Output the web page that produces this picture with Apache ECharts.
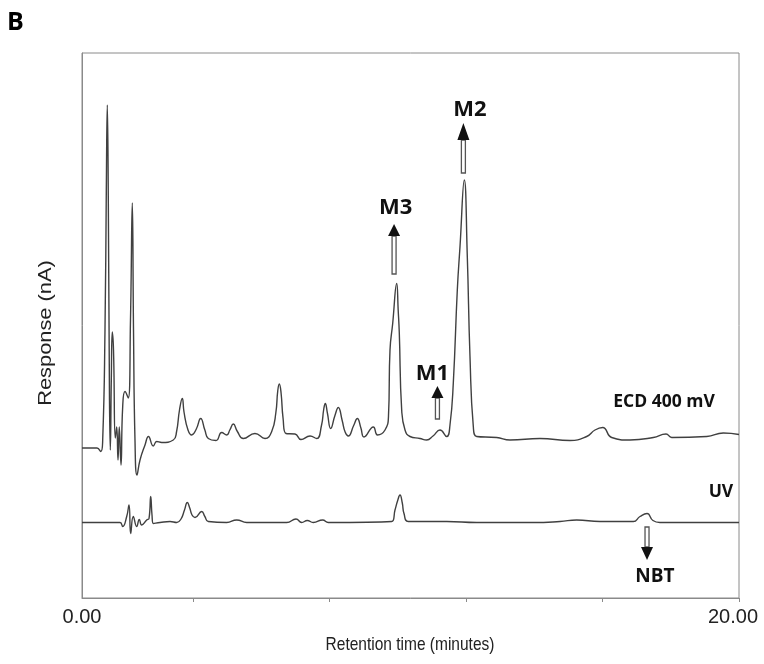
<!DOCTYPE html>
<html>
<head>
<meta charset="utf-8">
<script src="https://cdn.jsdelivr.net/npm/echarts@6/dist/echarts.min.js"></script>
<style>html,body{margin:0;padding:0;background:#fff;}#c{width:764px;height:664px;}</style>
</head>
<body>
<div id="c"></div>
<script>
// Retention time (minutes) and response (arbitrary units)
const ecdTime = [0.00,0.457,0.569,0.630,0.700,0.740,0.770,0.801,0.837,0.861,0.892,0.922,0.959,1.014,1.056,1.096,1.135,1.187,1.239,1.309,1.409,1.476,1.531,1.568,1.613,1.674,1.766,1.918,2.024,2.170,2.274,2.426,2.779,2.877,2.968,3.053,3.105,3.227,3.339,3.48,3.613,3.74,3.845,4.079,4.253,4.405,4.50,4.606,4.73,4.910,5.266,5.571,5.775,5.90,5.96,6.006,6.06,6.12,6.210,6.484,6.667,6.941,7.145,7.29,7.36,7.406,7.47,7.571,7.70,7.802,7.92,8.01,8.107,8.27,8.381,8.49,8.584,8.868,8.995,9.224,9.330,9.376,9.458,9.580,9.625,9.659,9.732,9.833,9.985,10.289,10.493,10.685,10.898,11.102,11.202,11.303,11.425,11.507,11.638,11.729,11.811,11.912,12.015,12.624,13.029,13.942,14.855,15.364,15.616,15.851,16.125,16.682,17.391,17.778,17.951,19.017,19.522,20.00];
const ecdResp = [30.0,30.0,29.3,31.6,53.6,81.6,98.6,79.6,39.6,29.6,43.6,53.2,49.6,32.0,34.2,27.6,34.2,26.6,38.3,41.3,40.0,55.6,79.0,53.6,31.6,24.6,27.6,30.6,32.3,30.4,31.3,31.1,31.6,33.2,37.6,39.9,37.2,33.6,32.6,33.8,35.9,33.6,31.9,31.5,33.1,32.6,33.6,34.8,33.3,31.9,32.9,31.9,33.3,37.0,41.5,42.8,41.0,36.0,32.9,32.8,31.7,32.4,31.9,34.5,37.8,38.9,37.0,33.9,36.5,38.1,35.5,33.2,32.4,34.5,35.9,34.0,32.2,34.2,32.6,33.6,36.4,49.6,54.9,62.9,57.6,53.0,37.6,33.6,32.3,31.9,31.6,32.4,33.6,32.3,34.6,43.0,61.6,70.3,83.6,68.3,48.3,34.3,32.3,32.1,31.6,31.9,31.5,32.3,33.6,34.1,32.1,31.6,32.1,32.8,32.1,32.3,33.0,32.7];
const uvTime = [0.00,1.157,1.239,1.361,1.431,1.482,1.562,1.665,1.744,1.817,1.970,2.040,2.091,2.131,2.170,2.374,2.679,2.883,3.014,3.12,3.205,3.28,3.349,3.440,3.644,3.74,3.845,4.405,4.709,5.014,6.231,6.514,6.688,6.858,7.041,7.327,7.498,9.428,9.528,9.61,9.680,9.75,9.802,9.933,11.102,12.015,13.739,14.551,15.059,15.769,16.783,16.986,17.200,17.380,17.595,20.00];
const uvResp = [15.1,15.1,14.3,16.3,18.6,12.9,16.3,14.3,15.7,14.6,15.6,15.9,20.3,16.6,14.9,15.1,15.3,15.1,15.8,17.6,19.1,18.0,16.6,16.1,17.3,16.3,15.3,15.1,15.6,15.1,15.1,15.8,15.1,15.5,15.1,15.6,15.1,15.3,17.6,19.5,20.6,19.0,16.9,15.3,15.3,15.1,15.1,15.3,15.6,15.3,15.3,16.3,16.9,15.5,15.1,15.1];
const xTicks = [3.39, 7.54, 11.69, 15.85, 20];
const xLabelValues = [0, 20];

// Annotations: [label, time, shaftBottom, shaftTop, tip, textTime, textResp]
const arrowsUp = [
  ['M3', 9.50, 64.8, 72.4, 74.8, 9.55, 78.0],
  ['M1', 10.82, 35.8, 40.0, 42.4, 10.67, 44.8],
  ['M2', 11.61, 85.0, 91.6, 95.0, 11.81, 97.6]
];
const arrowsDown = [
  ['NBT', 17.20, 14.2, 10.2, 7.6, 17.44, 4.2]
];
const traceLabels = [['ECD 400 mV', 17.72, 39.2], ['UV', 19.45, 21.2]];

const zip = (a, b) => a.map((v, i) => [v, b[i]]);
const chart = echarts.init(document.getElementById('c'));
const lineColor = '#404040';
const axisColor = '#8a8a8a';
const labelFontFamily = 'Liberation Sans';
chart.setOption({
  animation: false,
  backgroundColor: '#fff',
  grid: {left: 82, right: 25, top: 53, bottom: 66, show: true, borderColor: axisColor, borderWidth: 1, backgroundColor: 'transparent'},
  xAxis: {
    type: 'value', min: 0, max: 20,
    axisLine: {lineStyle: {color: axisColor, width: 1}},
    axisTick: {show: true, customValues: xTicks, length: 4, lineStyle: {color: axisColor}},
    axisLabel: {
      customValues: xLabelValues,
      formatter: v => v === 20 ? '{r|' + v.toFixed(2) + '}' : v.toFixed(2),
      fontFamily: labelFontFamily, fontSize: 20, color: '#222', margin: 9,
      rich: {r: {fontFamily: labelFontFamily, fontSize: 20, color: '#222', padding: [0, 12, 0, 0]}}
    },
    splitLine: {show: false}
  },
  yAxis: {
    type: 'value', min: 0, max: 109,
    axisLine: {show: true, lineStyle: {color: axisColor, width: 1}},
    axisTick: {show: false}, axisLabel: {show: false}, splitLine: {show: false}
  },
  series: [
    {type: 'line', name: 'ECD 400 mV', data: zip(ecdTime, ecdResp), showSymbol: false, smooth: 0.5, lineStyle: {color: lineColor, width: 1.4}},
    {type: 'line', name: 'UV', data: zip(uvTime, uvResp), showSymbol: false, smooth: 0.5, lineStyle: {color: lineColor, width: 1.4}}
  ]
});

const px = (t, v) => chart.convertToPixel({gridIndex: 0}, [t, v]);
const g = [];
const sizeOf = {M1: 22, M2: 22, M3: 22, NBT: 19};
function arrow(a) {
  const [lab, t, sb, st, tip, tt, tv] = a;
  const p1 = px(t, sb), p2 = px(t, st), p3 = px(t, tip), pt = px(tt, tv);
  const x = p1[0];
  const yTop = Math.min(p1[1], p2[1]), h = Math.abs(p1[1] - p2[1]);
  g.push({type: 'rect', shape: {x: x - 2, y: yTop, width: 4, height: h}, style: {fill: '#fff', stroke: '#555', lineWidth: 1.3}});
  g.push({type: 'polygon', shape: {points: [[x - 6, p2[1]], [x + 6, p2[1]], [x, p3[1]]]}, style: {fill: '#111'}});
  g.push({type: 'text', x: pt[0], y: pt[1], style: {text: lab, font: 'bold ' + sizeOf[lab] + 'px "Open Sans", sans-serif', fill: '#111', align: 'center', verticalAlign: 'middle'}});
}
arrowsUp.forEach(arrow);
arrowsDown.forEach(arrow);
traceLabels.forEach(([lab, t, v]) => {
  const p = px(t, v);
  g.push({type: 'text', x: p[0], y: p[1], style: {text: lab, font: 'bold 17.5px "Open Sans", sans-serif', fill: '#111', align: 'center', verticalAlign: 'middle'}});
});
g.push({type: 'text', left: 7, top: 10, style: {text: 'B', font: 'bold 25px "Open Sans", sans-serif', fill: '#000'}});
// axis titles (the source image is slightly stretched vertically, hence the scale)
g.push({type: 'text', x: 410, y: 645, scaleY: 1.15, style: {text: 'Retention time (minutes)', font: '15.5px "Liberation Sans"', fill: '#222', align: 'center', verticalAlign: 'middle'}});
g.push({type: 'text', x: 46, y: 333, rotation: Math.PI / 2, scaleX: 1.18, style: {text: 'Response (nA)', font: '18.5px "Liberation Sans"', fill: '#222', align: 'center', verticalAlign: 'middle'}});
chart.setOption({graphic: g});
</script>
</body>
</html>
